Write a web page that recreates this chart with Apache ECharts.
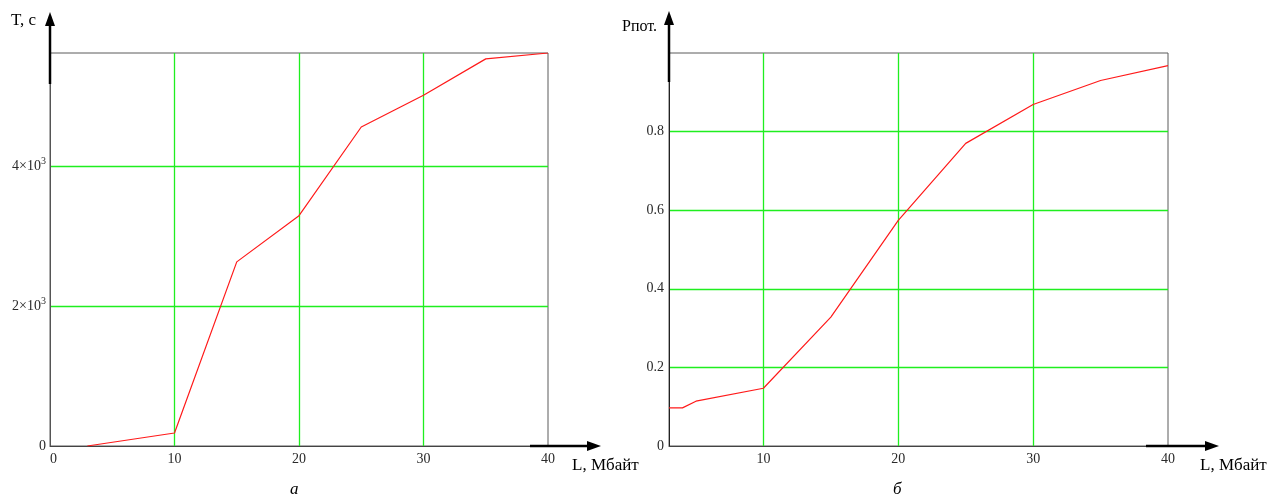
<!DOCTYPE html>
<html>
<head>
<meta charset="utf-8">
<script src="https://cdn.jsdelivr.net/npm/echarts@6/dist/echarts.min.js"></script>
<style>
html,body{margin:0;padding:0;background:#fff;}
#c{width:1282px;height:502px;}
</style>
</head>
<body>
<div id="c"></div>
<script>
// Chart (а): transfer time T, s vs L, MB
const lenA = [3, 10, 15, 20, 25, 30, 35, 40];
const timeA = [0, 186, 2630, 3290, 4557, 5010, 5530, 5614];
// Chart (б): probability of loss vs L, MB
const lenB = [3, 4, 5, 10, 15, 20, 25, 30, 35, 40];
const probB = [0.097, 0.097, 0.114, 0.147, 0.328, 0.574, 0.770, 0.869, 0.930, 0.968];

const xTicksA = [0, 10, 20, 30, 40];
const yTicksA = [0, 2000, 4000];
const yTicksB = [0, 0.2, 0.4, 0.6, 0.8];

const titleYA = 'T, с';
const titleYB = 'Рпот.';
const titleX = 'L, Мбайт';
const captionA = 'а';
const captionB = 'б';

const FONT = '"Liberation Serif", "DejaVu Serif", serif';
const GREEN = '#1fee1f';
const LABEL = '#2a2a2a';

const chart = echarts.init(document.getElementById('c'), null, {renderer: 'canvas'});

function axisLabelStyle(extra) {
  return Object.assign({color: LABEL, fontFamily: FONT, fontSize: 14}, extra || {});
}
function splitStyle() {
  return {show: true, showMinLine: false, showMaxLine: false, lineStyle: {color: GREEN, width: 1.3}};
}

const option = {
  animation: false,
  backgroundColor: '#fff',
  grid: [
    {left: 50, top: 53, width: 498, height: 393, show: true, borderColor: '#5a5a5a', borderWidth: 1, backgroundColor: 'transparent'},
    {left: 669, top: 53, width: 499, height: 393, show: true, borderColor: '#5a5a5a', borderWidth: 1, backgroundColor: 'transparent'}
  ],
  xAxis: [
    {
      type: 'value', gridIndex: 0, min: xTicksA[0], max: xTicksA[xTicksA.length - 1], interval: 10,
      axisLine: {show: true, onZero: false, lineStyle: {color: '#444', width: 1}},
      axisTick: {show: false},
      splitLine: splitStyle(),
      axisLabel: axisLabelStyle({margin: 6, formatter: function (v) { return v === 0 ? '  0' : String(v); }})
    },
    {
      type: 'value', gridIndex: 1, min: lenB[0], max: lenB[lenB.length - 1], splitNumber: 4,
      axisLine: {show: true, onZero: false, lineStyle: {color: '#444', width: 1}},
      axisTick: {show: false},
      splitLine: splitStyle(),
      axisLabel: axisLabelStyle({margin: 6, showMinLabel: false})
    }
  ],
  yAxis: [
    {
      type: 'value', gridIndex: 0, min: 0, max: timeA[timeA.length - 1], interval: 2000,
      axisLine: {show: true, onZero: false, lineStyle: {color: '#555', width: 1}},
      axisTick: {show: false},
      splitLine: splitStyle(),
      axisLabel: axisLabelStyle({
        margin: 4, showMaxLabel: false,
        formatter: function (v) {
          if (v === 0) return '0';
          if (yTicksA.indexOf(v) < 0) return '';
          return '{m|' + (v / 1000) + '×10}{s|3}';
        },
        rich: {
          m: {fontFamily: FONT, fontSize: 14, color: LABEL},
          s: {fontFamily: FONT, fontSize: 10, color: LABEL, padding: [0, 0, 9, 0]}
        }
      })
    },
    {
      type: 'value', gridIndex: 1, min: 0, max: 1, interval: 0.2,
      axisLine: {show: true, onZero: false, lineStyle: {color: '#222', width: 1}},
      axisTick: {show: false},
      splitLine: splitStyle(),
      axisLabel: axisLabelStyle({margin: 5, showMaxLabel: false,
        formatter: function (v) { return v === 0 ? '0' : String(+v.toFixed(1)); }})
    }
  ],
  series: [
    {
      type: 'line', xAxisIndex: 0, yAxisIndex: 0, showSymbol: false, z: 5,
      lineStyle: {color: '#ff1a1a', width: 1.2},
      data: lenA.map((x, i) => [x, timeA[i]])
    },
    {
      type: 'line', xAxisIndex: 1, yAxisIndex: 1, showSymbol: false, z: 5,
      lineStyle: {color: '#ff1a1a', width: 1.2},
      data: lenB.map((x, i) => [x, probB[i]])
    }
  ],
  graphic: [
    // left chart arrows
    {type: 'line', shape: {x1: 50, y1: 84, x2: 50, y2: 22}, style: {stroke: '#000', lineWidth: 2.5}, z: 10},
    {type: 'polygon', shape: {points: [[50, 12], [45, 26], [55, 26]]}, style: {fill: '#000'}, z: 10},
    {type: 'line', shape: {x1: 530, y1: 446, x2: 592, y2: 446}, style: {stroke: '#000', lineWidth: 2.5}, z: 10},
    {type: 'polygon', shape: {points: [[601, 446], [587, 441], [587, 451]]}, style: {fill: '#000'}, z: 10},
    // right chart arrows
    {type: 'line', shape: {x1: 669, y1: 82, x2: 669, y2: 22}, style: {stroke: '#000', lineWidth: 2.5}, z: 10},
    {type: 'polygon', shape: {points: [[669, 11], [664, 25], [674, 25]]}, style: {fill: '#000'}, z: 10},
    {type: 'line', shape: {x1: 1146, y1: 446, x2: 1210, y2: 446}, style: {stroke: '#000', lineWidth: 2.5}, z: 10},
    {type: 'polygon', shape: {points: [[1219, 446], [1205, 441], [1205, 451]]}, style: {fill: '#000'}, z: 10},
    // titles
    {type: 'text', left: 11, top: 12, style: {text: titleYA, font: '17px ' + FONT, fill: '#000'}},
    {type: 'text', left: 622, top: 19, style: {text: titleYB, font: '16px ' + FONT, fill: '#000'}},
    {type: 'text', left: 572, top: 457, style: {text: titleX, font: '17px ' + FONT, fill: '#000'}},
    {type: 'text', left: 1200, top: 457, style: {text: titleX, font: '17px ' + FONT, fill: '#000'}},
    {type: 'text', left: 290, top: 481, style: {text: captionA, font: 'italic 17px ' + FONT, fill: '#000'}},
    {type: 'text', left: 893, top: 481, style: {text: captionB, font: 'italic 17px ' + FONT, fill: '#000'}}
  ]
};
chart.setOption(option);
</script>
</body>
</html>
